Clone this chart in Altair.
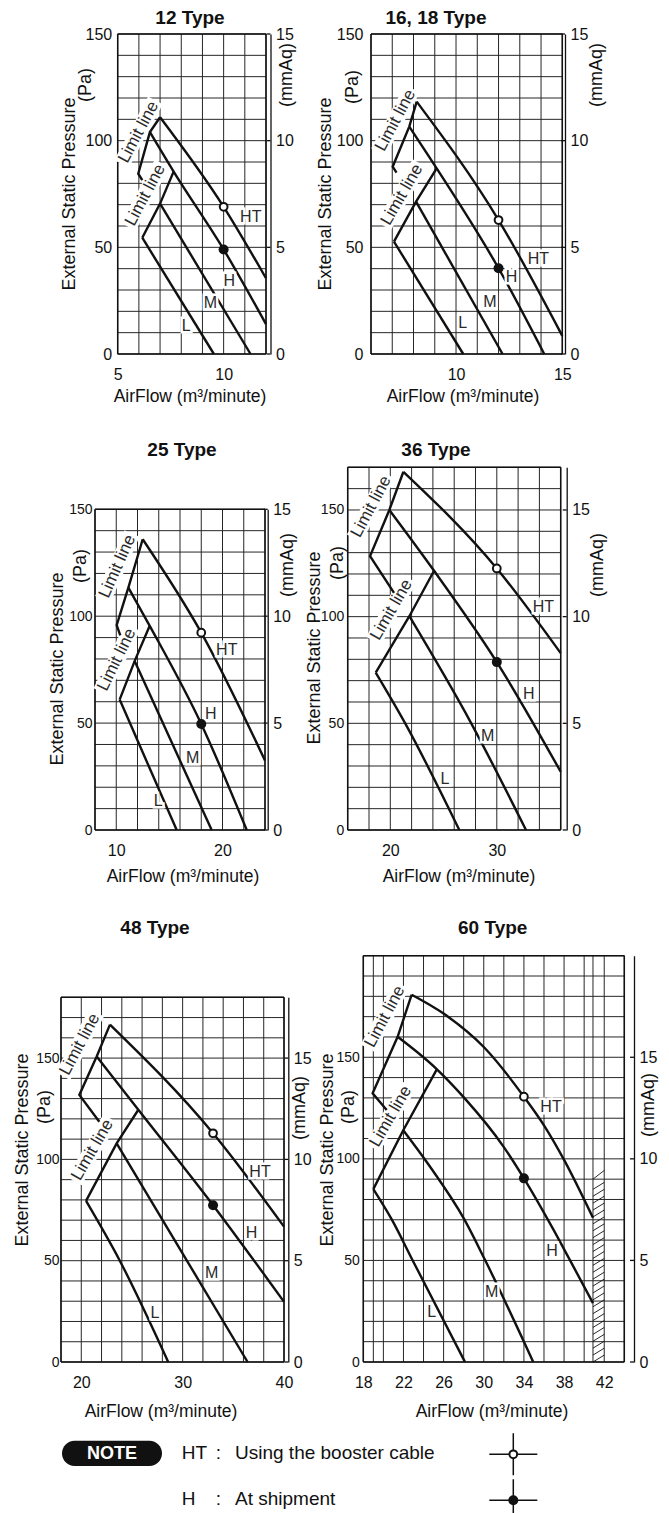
import altair as alt
import pandas as pd

FONT = "Liberation Sans"
INK = "#111111"
GRID = "#262626"
TAG_INK = "#2a2a2a"

# ---------------- data ----------------
# 12 Type
P12_HT = [(7.0, 111.0), (10.0, 69.0), (12.0, 35.5)]
P12_H = [(6.52, 104.0), (7.64, 85.5), (10.0, 49.0), (12.0, 14.0)]
P12_M = [(7.0, 70.5), (11.27, 0.0)]
P12_L = [(6.16, 54.5), (9.54, 0.0)]
P12_LIMIT_UP = [(7.0, 111.0), (6.52, 104.0), (5.97, 84.5), (6.16, 81.5)]
P12_LIMIT_LOW = [(7.64, 85.5), (7.0, 70.5), (6.16, 54.5)]
P12_BOOST = (10.0, 69.0)
P12_SHIP = (10.0, 49.0)
P12_TAGS = [("HT", 11.28, 64.0), ("H", 10.27, 34.0), ("M", 9.38, 24.0), ("L", 8.23, 13.0)]
P12_LIMIT_TAGS = [(5.98, 104.0, 298), (6.3, 74.5, 298)]

# 16, 18 Type
P16_HT = [(8.15, 118.3), (12.0, 62.8), (15.0, 8.5)]
P16_H = [(7.8, 106.6), (9.09, 87.0), (12.0, 40.2), (14.15, 0.0)]
P16_M = [(8.12, 71.4), (12.19, 0.0)]
P16_L = [(7.08, 52.7), (10.34, 0.0)]
P16_LIMIT_UP = [(8.15, 118.3), (7.8, 106.6), (7.02, 87.8), (7.2, 85.0)]
P16_LIMIT_LOW = [(9.09, 87.0), (8.12, 71.4), (7.08, 52.7)]
P16_BOOST = (12.0, 62.8)
P16_SHIP = (12.0, 40.2)
P16_TAGS = [("HT", 13.87, 44.4), ("H", 12.61, 36.3), ("M", 11.6, 24.5), ("L", 10.31, 14.4)]
P16_LIMIT_TAGS = [(7.15, 109.5, 298), (7.45, 74.7, 300)]

# 25 Type
P25_HT = [(12.49, 136.0), (18.0, 92.3), (24.0, 32.5)]
P25_H = [(11.14, 113.4), (13.15, 95.5), (18.0, 49.6), (22.28, 0.0)]
P25_M = [(11.73, 79.0), (18.98, 0.0)]
P25_L = [(10.32, 61.0), (15.69, 0.0)]
P25_LIMIT_UP = [(12.49, 136.0), (11.14, 113.4), (10.04, 95.8), (10.38, 91.0)]
P25_LIMIT_LOW = [(13.15, 95.5), (11.73, 79.0), (10.32, 61.0)]
P25_BOOST = (18.0, 92.3)
P25_SHIP = (18.0, 49.6)
P25_TAGS = [("HT", 20.4, 84.2), ("H", 18.9, 54.3), ("M", 17.2, 33.5), ("L", 13.96, 13.7)]
P25_LIMIT_TAGS = [(10.1, 123.3, 294), (10.05, 79.7, 296)]

# 36 Type
P36_HT = [(21.23, 167.9), (30.0, 122.6), (36.0, 82.9)]
P36_H = [(19.91, 150.0), (24.11, 121.5), (30.0, 78.7), (36.0, 27.3)]
P36_M = [(21.79, 100.2), (27.6, 50.0), (32.74, 0.0)]
P36_L = [(18.63, 73.8), (21.4, 50.0), (26.48, 0.0)]
P36_LIMIT_UP = [(21.23, 167.9), (19.91, 150.0), (18.1, 128.4), (20.35, 111.1)]
P36_LIMIT_LOW = [(24.11, 121.5), (21.79, 100.2), (18.63, 73.8)]
P36_BOOST = (30.0, 122.6)
P36_SHIP = (30.0, 78.7)
P36_TAGS = [("HT", 34.37, 104.5), ("H", 33.0, 63.8), ("M", 29.15, 44.0), ("L", 25.14, 24.1)]
P36_LIMIT_TAGS = [(18.2, 151.6, 298), (20.1, 103.2, 300)]

# 48 Type
P48_HT = [(22.83, 166.5), (33.0, 112.9), (40.0, 66.8)]
P48_H = [(21.52, 150.8), (25.63, 124.5), (33.0, 77.4), (40.0, 29.7)]
P48_M = [(23.49, 107.9), (36.41, 0.0)]
P48_L = [(20.47, 79.5), (23.8, 50.0), (28.58, 0.0)]
P48_LIMIT_UP = [(22.83, 166.5), (21.52, 150.8), (19.81, 131.8), (21.78, 118.6)]
P48_LIMIT_LOW = [(25.63, 124.5), (23.49, 107.9), (20.47, 79.5)]
P48_BOOST = (33.0, 112.9)
P48_SHIP = (33.0, 77.4)
P48_TAGS = [("HT", 37.63, 93.9), ("H", 36.8, 63.6), ("M", 32.86, 44.1), ("L", 27.27, 24.3)]
P48_LIMIT_TAGS = [(19.85, 156.8, 298), (21.1, 104.7, 300)]

# 60 Type
P60_HT = [(22.82, 180.8), (26.0, 171.5), (30.05, 154.8), (34.0, 130.6),
          (36.0, 116.5), (38.0, 99.5), (40.88, 71.0)]
P60_H = [(21.42, 160.1), (25.31, 144.2), (28.06, 130.0), (32.0, 105.8),
         (34.0, 90.4), (36.9, 65.5), (38.6, 50.0), (40.88, 29.0)]
P60_M = [(21.98, 114.1), (24.81, 95.0), (28.05, 70.3), (30.12, 50.3), (34.93, 0.0)]
P60_L = [(19.0, 85.1), (20.83, 70.2), (22.92, 50.0), (28.13, 0.0)]
P60_LIMIT_UP = [(22.82, 180.8), (21.42, 160.1), (18.93, 132.3), (20.33, 124.0)]
P60_LIMIT_LOW = [(25.31, 143.9), (21.98, 114.1), (19.0, 85.1)]
P60_BOOST = (34.0, 130.6)
P60_SHIP = (34.0, 90.4)
P60_TAGS = [("HT", 36.7, 125.7), ("H", 36.8, 54.4), ("M", 30.79, 34.6), ("L", 24.81, 24.6)]
P60_LIMIT_TAGS = [(20.15, 170.0, 298), (20.72, 120.9, 300)]
P60_HATCH_X = (40.88, 42.0)
P60_HATCH_TOP = (90.0, 94.3)

NOTE_KEYS = ["HT", "H"]
NOTE_TEXTS = ["Using the booster cable", "At shipment"]

# ---------------- layout (pixels inside each concat cell) ----------------
PANELS = [
    dict(title="12 Type", curves=[("HT", P12_HT), ("H", P12_H), ("M", P12_M), ("L", P12_L)],
         limits=[("u", P12_LIMIT_UP), ("l", P12_LIMIT_LOW)], boost=P12_BOOST, ship=P12_SHIP,
         tags=P12_TAGS, limit_tags=P12_LIMIT_TAGS,
         w=292, h=346, xr=[109.7, 258], yr=[346, 26], xdom=[5, 12], ytop=150,
         xticks=[5, 10], xgrid=[5, 6, 7, 8, 9, 10, 11, 12], ypad=6, ylab=16, raxis=262.5,
         t_xy=(182, 10), xt_xy=(182, 389), yt_xy=(62, 186), pa_xy=(78, 77), mm_xy=(279, 67)),
    dict(title="16, 18 Type", curves=[("HT", P16_HT), ("H", P16_H), ("M", P16_M), ("L", P16_L)],
         limits=[("u", P16_LIMIT_UP), ("l", P16_LIMIT_LOW)], boost=P16_BOOST, ship=P16_SHIP,
         tags=P16_TAGS, limit_tags=P16_LIMIT_TAGS,
         w=361, h=346, xr=[71, 262.3], yr=[346, 26], xdom=[6, 15], ytop=150,
         xticks=[10, 15], xgrid=[6, 7, 8, 9, 10, 11, 12, 13, 14, 15], ypad=8, ylab=16, raxis=265,
         t_xy=(136, 10), xt_xy=(163, 389), yt_xy=(26, 186), pa_xy=(53, 79), mm_xy=(297, 67)),
    dict(title="25 Type", curves=[("HT", P25_HT), ("H", P25_H), ("M", P25_M), ("L", P25_L)],
         limits=[("u", P25_LIMIT_UP), ("l", P25_LIMIT_LOW)], boost=P25_BOOST, ship=P25_SHIP,
         tags=P25_TAGS, limit_tags=P25_LIMIT_TAGS,
         w=292, h=476, xr=[87, 257], yr=[476, 155.3], xdom=[8, 24], ytop=150,
         xticks=[10, 20], xgrid=[8, 10, 12, 14, 16, 18, 20, 22, 24], ypad=3, ylab=14, raxis=259.7,
         t_xy=(174, 96), xt_xy=(175, 522.7), yt_xy=(49.5, 315), pa_xy=(72.5, 212), mm_xy=(280, 211)),
    dict(title="36 Type", curves=[("HT", P36_HT), ("H", P36_H), ("M", P36_M), ("L", P36_L)],
         limits=[("u", P36_LIMIT_UP), ("l", P36_LIMIT_LOW)], boost=P36_BOOST, ship=P36_SHIP,
         tags=P36_TAGS, limit_tags=P36_LIMIT_TAGS,
         w=361, h=476, xr=[47.7, 260.7], yr=[476, 113.3], xdom=[16, 36], ytop=170,
         xticks=[20, 30], xgrid=[16, 18, 20, 22, 24, 26, 28, 30, 32, 34, 36], ypad=4, ylab=14,
         raxis=266.7,
         t_xy=(136, 96), xt_xy=(159, 522.7), yt_xy=(15, 294), pa_xy=(38, 209), mm_xy=(298, 211)),
    dict(title="48 Type", curves=[("HT", P48_HT), ("H", P48_H), ("M", P48_M), ("L", P48_L)],
         limits=[("u", P48_LIMIT_UP), ("l", P48_LIMIT_LOW)], boost=P48_BOOST, ship=P48_SHIP,
         tags=P48_TAGS, limit_tags=P48_LIMIT_TAGS,
         w=292, h=532, xr=[53, 276], yr=[532, 167.3], xdom=[18, 40], ytop=180,
         xticks=[20, 30, 40], xgrid=[18, 20, 22, 24, 26, 28, 30, 32, 34, 36, 38, 40], ypad=2, ylab=14,
         raxis=280.3,
         t_xy=(147, 97.7), xt_xy=(153, 581.7), yt_xy=(14.5, 320), pa_xy=(37, 277), mm_xy=(292, 278),
         legend=True),
    dict(title="60 Type", curves=[("HT", P60_HT), ("H", P60_H), ("M", P60_M), ("L", P60_L)],
         limits=[("u", P60_LIMIT_UP), ("l", P60_LIMIT_LOW)], boost=P60_BOOST, ship=P60_SHIP,
         tags=P60_TAGS, limit_tags=P60_LIMIT_TAGS,
         w=361, h=532, xr=[63.3, 324.3], yr=[532, 125.7], xdom=[18, 44], ytop=200,
         xticks=[18, 22, 26, 30, 34, 38, 42],
         xgrid=[18, 19, 20, 22, 24, 26, 28, 30, 32, 34, 36, 38, 40, 40.88, 42, 44], ypad=4, ylab=14,
         raxis=334,
         t_xy=(192.7, 97.7), xt_xy=(192, 581.7), yt_xy=(27.5, 320), pa_xy=(48.5, 277), mm_xy=(348.5, 275),
         hatch=True),
]

RECT_SHAPE = "M-1,-0.23L1,-0.23L1,0.23L-1,0.23Z"
CROSS_SHAPE = "M-1,0L1,0M0,-0.875L0,0.875"


def series_df(named):
    rows = []
    for name, pts in named:
        for i, (x, y) in enumerate(pts):
            rows.append({"series": name, "order": i, "x": x, "y": y})
    return pd.DataFrame(rows)


def text_layer(s, px, py, size, angle=0, weight="normal", color=INK, align="center", baseline="middle"):
    return alt.Chart(pd.DataFrame({"t": [s]})).mark_text(
        font=FONT, fontSize=size, fontWeight=weight, color=color, angle=angle,
        align=align, baseline=baseline,
    ).encode(text="t:N", x=alt.value(px), y=alt.value(py))


def make_panel(p):
    xs = alt.Scale(domain=p["xdom"], range=p["xr"], nice=False, zero=False)
    ys = alt.Scale(domain=[0, p["ytop"]], range=p["yr"], nice=False, zero=False)
    xax = alt.Axis(values=p["xticks"], title=None, grid=False, domain=False, ticks=False, tickSize=0,
                   labelPadding=12.5, labelFont=FONT, labelFontSize=16, labelColor=INK, format="d",
                   labelFlush=False, labelOverlap=False)
    yax = alt.Axis(orient="left", offset=-p["xr"][0], values=[0, 50, 100, 150], title=None, grid=False,
                   domain=False, ticks=False, tickSize=0, labelPadding=p["ypad"], labelFont=FONT,
                   labelFontSize=p["ylab"], labelColor=INK, format="d", labelFlush=False,
                   labelOverlap=False)

    def X(f):
        return alt.X(f, type="quantitative", scale=xs, axis=xax)

    def Y(f):
        return alt.Y(f, type="quantitative", scale=ys, axis=yax)

    x0, x1 = p["xdom"]
    top = p["ytop"]
    vgrid = pd.DataFrame({"x": p["xgrid"], "y0": 0, "y1": top})
    hgrid = pd.DataFrame({"y": list(range(0, top + 1, 10)), "x0": x0, "x1": x1})
    border = pd.DataFrame({"xa": [x0, x0, x0, x1], "ya": [0, top, 0, 0],
                           "xb": [x1, x1, x0, x1], "yb": [0, top, top, top]})

    layers = [
        alt.Chart(vgrid).mark_rule(color=GRID, strokeWidth=1).encode(x=X("x"), y=Y("y0"), y2="y1"),
        alt.Chart(hgrid).mark_rule(color=GRID, strokeWidth=1).encode(y=Y("y"), x=X("x0"), x2="x1"),
    ]
    if p.get("hatch"):
        hx0, hx1 = P60_HATCH_X
        t0, t1 = P60_HATCH_TOP
        starts = [i * 3.4 for i in range(int((t0 - 3.4) / 3.4) + 1)]
        hatch = pd.DataFrame({"xa": hx0, "xb": hx1, "ya": starts, "yb": [s + 3.4 for s in starts]})
        hatch = pd.concat([hatch, pd.DataFrame({"xa": [hx0], "xb": [hx1], "ya": [t0], "yb": [t1]})])
        layers.append(alt.Chart(hatch).mark_rule(color=INK, strokeWidth=0.9).encode(
            x=X("xa"), x2="xb", y=Y("ya"), y2="yb"))
    layers.append(alt.Chart(border).mark_rule(color=INK, strokeWidth=1.5).encode(
        x=X("xa"), y=Y("ya"), x2="xb", y2="yb"))

    layers.append(alt.Chart(series_df(p["curves"])).mark_line(
        color=INK, strokeWidth=2.4, interpolate="monotone").encode(
        x=X("x"), y=Y("y"), detail="series:N", order="order:Q"))

    lim = pd.DataFrame(p["limit_tags"], columns=["x", "y", "ang"])
    lim["t"] = "Limit line"
    layers.append(alt.Chart(lim).mark_point(
        shape=RECT_SHAPE, filled=True, color="white", opacity=1, size=5184, strokeWidth=0).encode(
        x=X("x"), y=Y("y"), angle=alt.Angle("ang:Q", scale=None)))
    layers.append(alt.Chart(series_df(p["limits"])).mark_line(
        color=INK, strokeWidth=2.4, interpolate="linear").encode(
        x=X("x"), y=Y("y"), detail="series:N", order="order:Q"))
    layers.append(alt.Chart(lim).mark_text(font=FONT, fontSize=17, color=TAG_INK).encode(
        x=X("x"), y=Y("y"), text="t:N", angle=alt.Angle("ang:Q", scale=None)))

    tags = pd.DataFrame(p["tags"], columns=["t", "x", "y"])
    layers.append(alt.Chart(tags).mark_text(font=FONT, fontSize=16, color="white", stroke="white",
                                            strokeWidth=5).encode(x=X("x"), y=Y("y"), text="t:N"))
    layers.append(alt.Chart(tags).mark_text(font=FONT, fontSize=16, color=TAG_INK).encode(
        x=X("x"), y=Y("y"), text="t:N"))

    layers.append(alt.Chart(pd.DataFrame([p["boost"]], columns=["x", "y"])).mark_point(
        shape="circle", filled=True, fill="white", stroke=INK, strokeWidth=2, size=60, opacity=1).encode(
        x=X("x"), y=Y("y")))
    layers.append(alt.Chart(pd.DataFrame([p["ship"]], columns=["x", "y"])).mark_point(
        shape="circle", filled=True, color=INK, size=100, opacity=1).encode(x=X("x"), y=Y("y")))

    layers.append(text_layer(p["title"], p["t_xy"][0], p["t_xy"][1], 19, weight="bold"))
    layers.append(text_layer("AirFlow (m³/minute)", p["xt_xy"][0], p["xt_xy"][1], 17.5))
    layers.append(text_layer("External Static Pressure", p["yt_xy"][0], p["yt_xy"][1], 18, angle=270))
    layers.append(text_layer("(Pa)", p["pa_xy"][0], p["pa_xy"][1], 18, angle=270))
    layers.append(text_layer("(mmAq)", p["mm_xy"][0], p["mm_xy"][1], 18, angle=270))

    if p.get("legend"):
        pill = pd.DataFrame({"k": ["NOTE"]})
        layers.append(alt.Chart(pill).mark_rect(color=INK, cornerRadius=12.5).encode(
            x=alt.value(54), x2=alt.value(154), y=alt.value(610.7), y2=alt.value(636)))
        layers.append(text_layer("NOTE", 104, 623.5, 18, weight="bold", color="white"))
        for key, desc, cy in zip(NOTE_KEYS, NOTE_TEXTS, [623.3, 669.3]):
            layers.append(text_layer(key, 173.7, cy, 19, align="left"))
            layers.append(text_layer(":", 210.3, cy, 19))
            layers.append(text_layer(desc, 227, cy, 19, align="left"))
            layers.append(alt.Chart(pd.DataFrame({"k": [key]})).mark_point(
                shape=CROSS_SHAPE, filled=False, stroke=INK, strokeWidth=1.5, size=2304, opacity=1).encode(
                x=alt.value(505.3), y=alt.value(cy + 1)))
        layers.append(alt.Chart(pd.DataFrame({"k": ["HT"]})).mark_point(
            shape="circle", filled=True, fill="white", stroke=INK, strokeWidth=2, size=60, opacity=1).encode(
            x=alt.value(505.3), y=alt.value(624.3)))
        layers.append(alt.Chart(pd.DataFrame({"k": ["H"]})).mark_point(
            shape="circle", filled=True, color=INK, size=100, opacity=1).encode(
            x=alt.value(505.3), y=alt.value(670.3)))

    main = alt.layer(*layers)

    mtop = top / 10.0
    ms = alt.Scale(domain=[0, mtop], range=p["yr"], nice=False, zero=False)
    max_ = alt.Axis(orient="right", offset=p["raxis"] - p["w"], values=[0, 5, 10, 15], title=None,
                    grid=False, ticks=False, tickSize=0, domain=True, domainColor=INK, domainWidth=1.3,
                    labelPadding=5, labelFont=FONT, labelFontSize=16, labelColor=INK, labelFlush=False,
                    labelOverlap=False, format="d")
    mm_dummy = alt.Chart(pd.DataFrame({"mm": [0, mtop]})).mark_point(opacity=0).encode(
        y=alt.Y("mm:Q", scale=ms, axis=max_))
    mm_ticks = alt.Chart(pd.DataFrame({"mm": [0, 5, 10, 15]})).mark_rule(color=INK, strokeWidth=1.3).encode(
        y=alt.Y("mm:Q", scale=ms, axis=max_), x=alt.value(p["raxis"] - 4), x2=alt.value(p["raxis"]))
    mm = alt.layer(mm_dummy, mm_ticks)

    return alt.layer(main, mm).resolve_scale(y="independent").properties(width=p["w"], height=p["h"])


chart = alt.concat(*[make_panel(p) for p in PANELS], columns=2, spacing=0, bounds="flush",
                   align="each").configure_view(stroke=None).properties(padding=0)

chart.save("out.html", embed_options={"renderer": "svg", "actions": False})
